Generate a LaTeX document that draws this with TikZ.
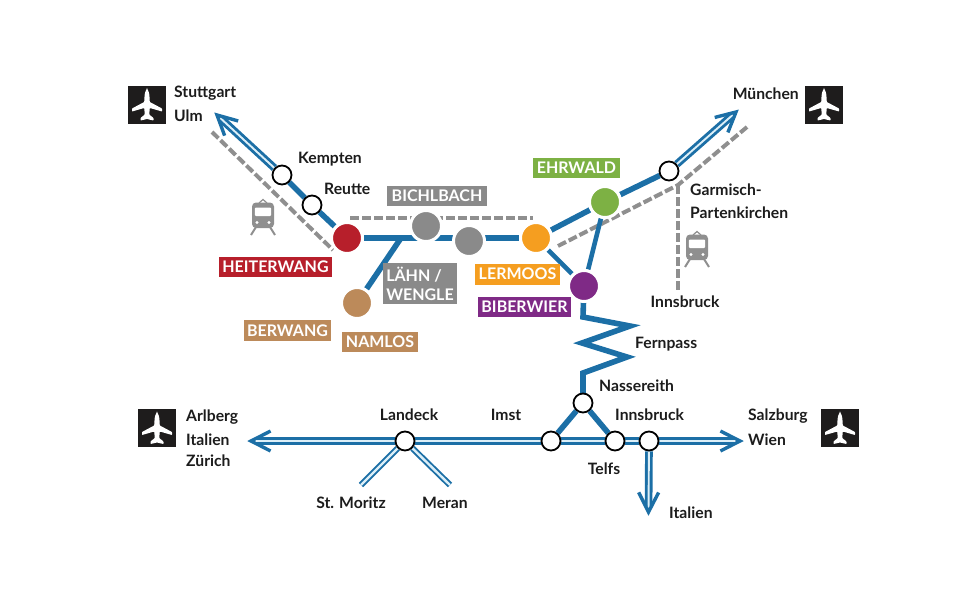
\documentclass[tikz,border=0pt]{standalone}
\usepackage{fontspec}
\setmainfont{Lato}[BoldFont={Lato Bold}]
\usetikzlibrary{calc,backgrounds}
\definecolor{lineblue}{HTML}{1C6FA6}
\definecolor{paleblue}{HTML}{DCEFF8}
\definecolor{dashgray}{HTML}{8F8F8F}
\definecolor{stgray}{HTML}{8A8A8A}
\definecolor{cred}{HTML}{B71F2B}
\definecolor{corange}{HTML}{F59E20}
\definecolor{cgreen}{HTML}{7DB144}
\definecolor{cpurple}{HTML}{7F2A86}
\definecolor{ctan}{HTML}{BC8A5A}
\definecolor{ink}{HTML}{1C1C1C}
\definecolor{boxblack}{HTML}{1E1C1C}
\tikzset{
  stn/.style={circle,draw=black,fill=white,line width=1.8pt,minimum size=19pt,inner sep=0pt},
  halt/.style={circle,draw=white,fill=#1,line width=3pt,minimum size=31pt,inner sep=0pt},
  tag/.style={fill=#1,text=white,font=\fontsize{16}{19}\selectfont\bfseries,inner sep=0pt,align=left},
  lbl/.style={text=ink,font=\fontsize{15.7}{18}\selectfont\bfseries,inner sep=0pt},
  road/.style={draw=lineblue,line width=5.6pt},
  thinroad/.style={draw=lineblue,line width=4.6pt},
  dbl/.style={draw=lineblue,line width=2.9pt,double=paleblue,double distance=1.9pt},
  dblthin/.style={draw=lineblue,line width=1.9pt,double=paleblue,double distance=2.4pt},
  rail/.style={draw=dashgray,line width=4pt,dash pattern=on 9pt off 3pt},
  headarrow/.style={draw=lineblue,line width=3.4pt,miter limit=10},
  iconbox/.style={fill=boxblack,minimum size=38pt,inner sep=0pt},
  plane/.pic={
    \fill[white,rounded corners=0.6pt] (0,-16) .. controls (1.6,-14) and (2.4,-11) .. (2.6,-6)
      -- (2.8,-2.5) -- (15,4) -- (15,7) -- (2.8,3.5) -- (2.2,10) -- (6.5,13.5) -- (6.5,16)
      -- (0,14.5) -- (-6.5,16) -- (-6.5,13.5) -- (-2.2,10) -- (-2.8,3.5) -- (-15,7) -- (-15,4)
      -- (-2.8,-2.5) -- (-2.6,-6) .. controls (-2.4,-11) and (-1.6,-14) .. (0,-16) -- cycle;
  },
  train/.pic={
    \draw[dashgray,line width=1.2pt] (-4,-14) -- (0,-17.5) -- (4,-14);
    \fill[dashgray,rounded corners=4pt] (-11,-14.5) rectangle (11,11);
    \fill[white,rounded corners=1pt] (-8.2,-9.5) rectangle (8.2,-1);
    \fill[white] (-6,5.5) circle (1.6);
    \fill[white] (6,5.5) circle (1.6);
    \draw[dashgray,line width=2pt] (-7,10) -- (-12,18);
    \draw[dashgray,line width=2pt] (7,10) -- (12,18);
  }
}
\newcommand{\chevron}[2]{\draw[headarrow] ($(#1)!22pt!-27:(#2)$) -- (#1) -- ($(#1)!22pt!27:(#2)$);}
\begin{document}
\begin{tikzpicture}[x=1pt,y=-1pt]
\useasboundingbox (0,0) rectangle (960,600);

% free ends
\coordinate (tipS) at (217,115);
\coordinate (tipM) at (736,112);
\coordinate (tipW) at (251,441);
\coordinate (tipE) at (740,441);
\coordinate (tipI) at (648.5,512);
\coordinate (endMoritz) at (361,485);
\coordinate (endMeran) at (450,485);
\coordinate (fork) at (401,238);
\coordinate (z0) at (583,317);
\coordinate (z1) at (630,326);
\coordinate (z2) at (582,343);
\coordinate (z3) at (627,357);
\coordinate (z4) at (583,373);
\coordinate (railA) at (212,132);
\coordinate (railB) at (333,250);
\coordinate (railC) at (350,218);
\coordinate (railD) at (533,218);
\coordinate (railE) at (558,246);
\coordinate (railF) at (747,127);
\coordinate (railG) at (678,185);
\coordinate (railH) at (678,290);

% stations
\node[stn] (kempten) at (282,175) {};
\node[stn] (reutte) at (312,205) {};
\node[stn] (garmisch) at (669,171) {};
\node[stn] (nassereith) at (583,403) {};
\node[stn] (imst) at (551,441) {};
\node[stn] (telfs) at (615,441) {};
\node[stn] (innsbruck) at (649,441) {};
\node[stn] (landeck) at (405,441) {};
\node[halt=cred] (heiterwang) at (347,238) {};
\node[halt=stgray] (bichlbach) at (426,226) {};
\node[halt=stgray] (lahn) at (469,241) {};
\node[halt=corange] (lermoos) at (536,238) {};
\node[halt=cgreen] (ehrwald) at (605,202) {};
\node[halt=cpurple] (biberwier) at (584,286) {};
\node[halt=ctan] (berwang) at (357,303) {};

% connectors
\begin{scope}[on background layer]
  \path[rail] (railA) -- (railB);
  \path[rail] (railC) -- (railD);
  \path[rail] (railE) -- (railG) -- (railF);
  \path[rail] (railG) -- (railH);
  \path[dbl,shorten >=6pt] (kempten) -- (tipS);
  \path[road] (kempten) -- (reutte);
  \path[road] (reutte) -- (heiterwang);
  \path[road] (heiterwang) -- (lermoos);
  \path[road] (fork) -- (berwang);
  \path[road] (lermoos) -- (ehrwald);
  \path[road] (ehrwald) -- (garmisch);
  \path[dbl,shorten >=6pt] (garmisch) -- (tipM);
  \path[thinroad] (lermoos) -- (biberwier);
  \path[thinroad] (ehrwald) -- (biberwier);
  \path[road,miter limit=10] (biberwier.center) -- (z0) -- (z1) -- (z2) -- (z3) -- (z4) -- (nassereith.center);
  \path[road] (nassereith) -- (imst);
  \path[road] (nassereith) -- (telfs);
  \path[dbl,shorten >=6pt] (landeck) -- (tipW);
  \path[dbl] (landeck) -- (imst);
  \path[dbl] (imst) -- (telfs);
  \path[dbl] (telfs) -- (innsbruck);
  \path[dbl,shorten >=6pt] (innsbruck) -- (tipE);
  \path[dbl,shorten >=6pt] (innsbruck) -- (tipI);
  \path[dblthin] (landeck) -- (endMoritz);
  \path[dblthin] (landeck) -- (endMeran);
\end{scope}
\chevron{tipS}{kempten}
\chevron{tipM}{garmisch}
\chevron{tipW}{landeck}
\chevron{tipE}{innsbruck}
\chevron{tipI}{innsbruck}

% coloured name tags
\node[tag=stgray,minimum width=100pt,minimum height=20pt] (tBich) at (437,196) {BICHLBACH};
\node[tag=cgreen,minimum width=87pt,minimum height=20pt] (tEhr) at (576.5,168) {EHRWALD};
\node[tag=corange,minimum width=85pt,minimum height=21pt] (tLer) at (517.5,274) {LERMOOS};
\node[tag=cpurple,minimum width=93pt,minimum height=20pt] (tBib) at (524.5,307) {BIBERWIER};
\node[tag=cred,minimum width=113pt,minimum height=20pt] (tHei) at (275.5,267) {HEITERWANG};
\node[tag=stgray,minimum width=74pt,minimum height=41pt] (tLah) at (420,283.5) {\baselineskip=21pt LÄHN /\\WENGLE};
\node[tag=ctan,minimum width=87pt,minimum height=21pt] (tBer) at (287.5,330.5) {BERWANG};
\node[tag=ctan,minimum width=76pt,minimum height=20pt] (tNam) at (380,342) {NAMLOS};

% plain labels
\node[lbl,anchor=west] (lStu) at (174,93) {Stuttgart};
\node[lbl,anchor=west] (lUlm) at (174,116) {Ulm};
\node[lbl,anchor=west] (lKem) at (298,159) {Kempten};
\node[lbl,anchor=west] (lReu) at (324,189) {Reutte};
\node[lbl,anchor=east] (lMun) at (799,94) {München};
\node[lbl,anchor=west] (lGar) at (690,190) {Garmisch-};
\node[lbl,anchor=west] (lPar) at (690,213) {Partenkirchen};
\node[lbl] (lInn) at (685,302) {Innsbruck};
\node[lbl,anchor=west] (lFer) at (635,344) {Fernpass};
\node[lbl,anchor=west] (lNas) at (599,386) {Nassereith};
\node[lbl] (lLan) at (409,415) {Landeck};
\node[lbl] (lIms) at (506,415) {Imst};
\node[lbl,anchor=west] (lIn2) at (615,415) {Innsbruck};
\node[lbl] (lTel) at (604,469) {Telfs};
\node[lbl,anchor=west] (lSal) at (748,416) {Salzburg};
\node[lbl,anchor=west] (lWie) at (748,440) {Wien};
\node[lbl,anchor=west] (lArl) at (186,417) {Arlberg};
\node[lbl,anchor=west] (lIta) at (186,440) {Italien};
\node[lbl,anchor=west] (lZur) at (186,461) {Zürich};
\node[lbl] (lMor) at (351,503) {St. Moritz};
\node[lbl] (lMer) at (445,503) {Meran};
\node[lbl,anchor=west] (lIt2) at (669,513) {Italien};

% airport boxes
\node[iconbox] (airNW) at (147,104.5) {};
\node[iconbox] (airNE) at (824,104.5) {};
\node[iconbox] (airW) at (157,428) {};
\node[iconbox] (airE) at (840,428) {};
\pic at (airNW) {plane};
\pic at (airNE) {plane};
\pic at (airW) {plane};
\pic at (airE) {plane};

% trains
\pic at (263,217) {train};
\pic at (697,249) {train};
\end{tikzpicture}
\end{document}
